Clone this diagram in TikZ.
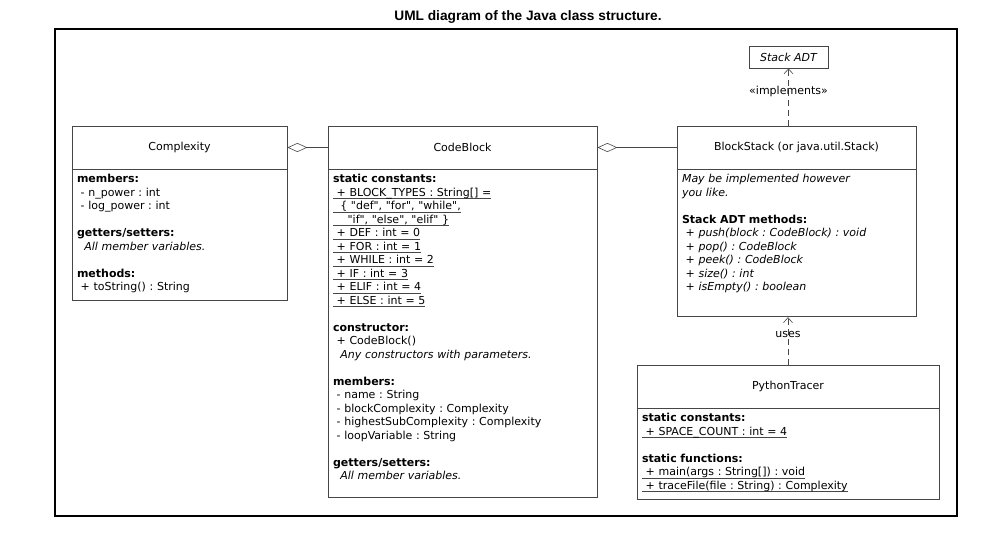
\documentclass[tikz,border=0pt]{standalone}
\usepackage{fontspec}
\setmainfont{DejaVu Sans}
\newfontfamily\titlefont{Liberation Sans}
\usetikzlibrary{
	arrows.meta,
	positioning
}
\frenchspacing
\definecolor{umlline}{RGB}{70,70,70}
\newcommand{\umlsize}{\fontsize{11}{13.5}\selectfont}
\newcommand{\qt}[1]{\textquotedbl#1\textquotedbl}
\newsavebox\statbox
\newcommand{\statline}[1]{\leavevmode\sbox\statbox{#1}\rlap{\color{umlline}\rule[-2.3pt]{\wd\statbox}{0.5pt}}\usebox\statbox}
\tikzset{
	classhead/.style={draw=umlline, line width=0.8pt, minimum height=43pt, inner sep=0pt, font=\umlsize},
	classbody/.style={draw=umlline, line width=0.8pt, align=left, inner xsep=5pt, inner ysep=4pt, text height=9pt, font=\umlsize},
	aggregation/.style={draw=umlline, line width=0.6pt, {Diamond[open, length=20pt, width=9pt]}-},
	dependency/.style={draw=umlline, line width=0.6pt, dash pattern=on 6pt off 4pt, -{Straight Barb[length=5pt, width=9pt]}},
	deplabel/.style={font=\umlsize}
}

\begin{document}
\begin{tikzpicture}[x=1pt, y=1pt]
	\useasboundingbox (0,0) rectangle (1001,-541);

	\node[font=\titlefont\bfseries\fontsize{13.7}{16}\selectfont] (title) at (528,-17) {UML diagram of the Java class structure.};
	\draw[line width=2pt] (55,-29) rectangle (957,-516);

	% class headers
	\node[classhead, minimum width=215pt] (cplx) at (179.5,-147.5) {Complexity};
	\node[classhead, minimum width=269pt] (code) at (462.5,-147.5) {CodeBlock};
	\node[classhead, minimum width=239pt] (stack) at (796.5,-147.5) {BlockStack (or java.util.Stack)};
	\node[classhead, minimum width=302pt] (tracer) at (788,-386.5) {PythonTracer};
	\node[draw=umlline, line width=0.8pt, minimum width=79pt, minimum height=22pt, font=\umlsize\itshape] (adt) at (788.5,-57) {Stack ADT};

	% class bodies
	\node[classbody, text width=205pt, text depth=114pt, below=0pt of cplx] (cplx-body) {%
		\textbf{members:}\\
		~- n\_power : int\\
		~- log\_power : int\\[13.5pt]
		\textbf{getters/setters:}\\
		~~\textit{All member variables.}\\[13.5pt]
		\textbf{methods:}\\
		~+ toString() : String};

	\node[classbody, text width=259pt, text depth=311pt, below=0pt of code] (code-body) {%
		\textbf{static constants:}\\
		\statline{~+ BLOCK\_TYPES : String[] =}\\
		\statline{~~\{ \qt{def}, \qt{for}, \qt{while},}\\
		\statline{~~~~\qt{if}, \qt{else}, \qt{elif} \}}\\
		\statline{~+ DEF : int = 0}\\
		\statline{~+ FOR : int = 1}\\
		\statline{~+ WHILE : int = 2}\\
		\statline{~+ IF : int = 3}\\
		\statline{~+ ELIF : int = 4}\\
		\statline{~+ ELSE : int = 5}\\[13.5pt]
		\textbf{constructor:}\\
		~+ CodeBlock()\\
		~~\textit{Any constructors with parameters.}\\[13.5pt]
		\textbf{members:}\\
		~- name : String\\
		~- blockComplexity : Complexity\\
		~- highestSubComplexity : Complexity\\
		~- loopVariable : String\\[13.5pt]
		\textbf{getters/setters:}\\
		~~\textit{All member variables.}};

	\node[classbody, text width=229pt, text depth=130pt, below=0pt of stack] (stack-body) {%
		\textit{May be implemented however}\\
		\textit{you like.}\\[13.5pt]
		\textbf{Stack ADT methods:}\\
		~\textit{+ push(block : CodeBlock) : void}\\
		~\textit{+ pop() : CodeBlock}\\
		~\textit{+ peek() : CodeBlock}\\
		~\textit{+ size() : int}\\
		~\textit{+ isEmpty() : boolean}};

	\node[classbody, text width=292pt, text depth=74pt, below=0pt of tracer] (tracer-body) {%
		\textbf{static constants:}\\
		\statline{~+ SPACE\_COUNT : int = 4}\\[13.5pt]
		\textbf{static functions:}\\
		\statline{~+ main(args : String[]) : void}\\
		\statline{~+ traceFile(file : String) : Complexity}};

	% relations
	\draw[aggregation] (cplx.east) -- (code.west);
	\draw[aggregation] (code.east) -- (stack.west);
	\draw[dependency] (adt.south |- stack.north) -- (adt.south)
		node[deplabel, pos=0.6] {«implements»};
	\draw[dependency] (tracer.north) -- (tracer.north |- stack-body.south)
		node[deplabel, pos=0.63] {uses};
\end{tikzpicture}
\end{document}
